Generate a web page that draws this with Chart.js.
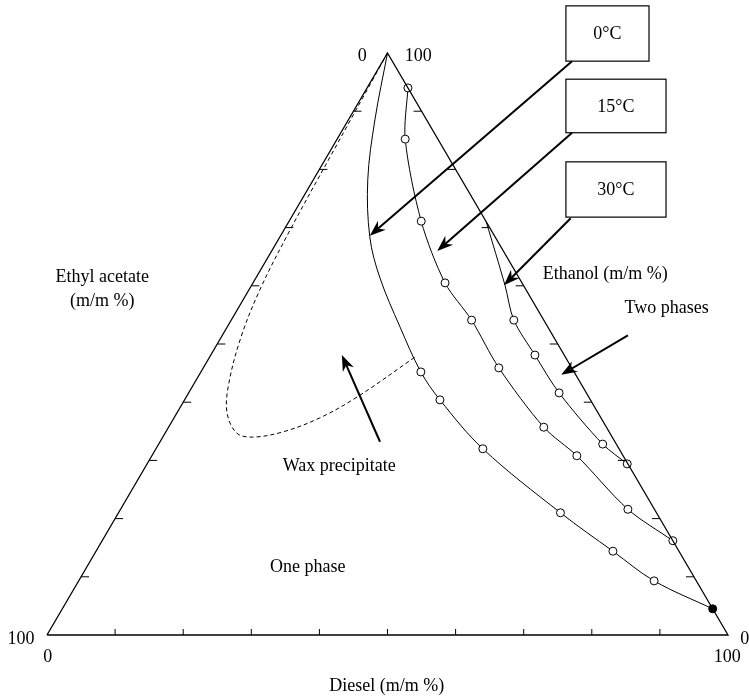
<!DOCTYPE html>
<html>
<head>
<meta charset="utf-8">
<script src="https://cdn.jsdelivr.net/npm/chart.js@4"></script>
<style>
  html, body { margin: 0; padding: 0; background: #fff; }
  #wrap { width: 749px; height: 696px; }
</style>
</head>
<body>
<div id="wrap"><canvas id="ternary" width="749" height="696"></canvas></div>
<script>
// compositions, m/m % (ethyl acetate = 100 - diesel - ethanol)
const diesel0   = [0, 3.9, 8.0, 13.2, 18.1, 25.4, 32.3, 37.5, 48.0, 64.9, 75.9, 84.5, 95.5];
const ethanol0  = [100, 88.5, 78.2, 68.4, 61.5, 52.9, 45.2, 40.4, 32.0, 21.0, 14.4, 9.3, 4.5];
const marked0   = [0, 0, 0, 0, 0, 0, 1, 1, 1, 1, 1, 1, 2];

const diesel15  = [6.0, 10.0, 19.4, 28.2, 35.3, 43.4, 55.1, 62.4, 74.5, 83.8];
const ethanol15 = [94.0, 85.2, 71.1, 60.5, 54.1, 45.9, 35.7, 30.8, 21.6, 16.2];
const marked15  = [1, 1, 1, 1, 1, 1, 1, 1, 1, 1];

const diesel30  = [29.0, 37.2, 41.5, 47.6, 54.4, 65.2, 70.5];
const ethanol30 = [71.0, 60.1, 54.1, 48.1, 41.6, 32.8, 29.4];
const marked30  = [0, 0, 1, 1, 1, 1, 1];

const dieselWax  = [0, 0.5, 0.9, 1.6, 3.0, 5.3, 7.4, 10.5, 13.2, 17.2, 21.4, 25.1, 30.2];
const ethanolWax = [100, 82.1, 69.6, 59.3, 50.7, 42.6, 38.1, 34.7, 34.0, 34.9, 37.3, 40.9, 47.8];

const tickSteps = [10, 20, 30, 40, 50, 60, 70, 80, 90];

// ternary -> plot coordinates (x along diesel axis, y = ethanol height)
function toXY(d, e) {
    return { x: d + e / 2, y: e };
}

function series(ds, es) {
    return ds.map((d, i) => toXY(d, es[i]));
}

function radii(marks) {
    return marks.map(m => m ? 4 : 0);
}

function fills(marks) {
    return marks.map(m => m === 2 ? '#000' : '#fff');
}

const FONT = '18px "Liberation Serif", "DejaVu Serif", serif';

// labels / annotations in plot units
const labels = [
    { t: '0', x: 46.3, y: 99.5, a: 'center' },
    { t: '100', x: 54.5, y: 99.5, a: 'center' },
    { t: 'Ethyl acetate', x: 8.1, y: 61.5, a: 'center' },
    { t: '(m/m %)', x: 8.1, y: 57.4, a: 'center' },
    { t: 'Ethanol (m/m %)', x: 72.8, y: 62.0, a: 'left' },
    { t: 'Two phases', x: 91.0, y: 56.2, a: 'center' },
    { t: 'Wax precipitate', x: 42.9, y: 29.0, a: 'center' },
    { t: 'One phase', x: 38.3, y: 11.7, a: 'center' },
    { t: '100', x: -3.8, y: -0.7, a: 'center' },
    { t: '0', x: 0.1, y: -3.8, a: 'center' },
    { t: '100', x: 99.9, y: -3.8, a: 'center' },
    { t: '0', x: 101.8, y: -0.7, a: 'left' },
    { t: 'Diesel (m/m %)', x: 49.9, y: -8.8, a: 'center' }
];

const boxes = [
    { t: '0°C', x0: 76.2, x1: 88.4, y0: 108.1, y1: 98.6 },
    { t: '15°C', x0: 76.2, x1: 90.9, y0: 95.5, y1: 86.3 },
    { t: '30°C', x0: 76.2, x1: 90.9, y0: 81.3, y1: 71.8 }
];

const arrows = [
    { x0: 77.1, y0: 98.6, x1: 47.4, y1: 68.6 },
    { x0: 77.1, y0: 86.3, x1: 57.3, y1: 66.0 },
    { x0: 76.9, y0: 71.6, x1: 67.1, y1: 60.1 },
    { x0: 85.3, y0: 51.5, x1: 75.5, y1: 44.7 },
    { x0: 48.9, y0: 33.2, x1: 43.3, y1: 48.1 }
];

function drawArrow(ctx, x0, y0, x1, y1) {
    const ang = Math.atan2(y1 - y0, x1 - x0);
    const len = 16, half = 6, back = 11;
    ctx.beginPath();
    ctx.moveTo(x0, y0);
    ctx.lineTo(x1 - Math.cos(ang) * back, y1 - Math.sin(ang) * back);
    ctx.lineWidth = 2;
    ctx.stroke();
    ctx.save();
    ctx.translate(x1, y1);
    ctx.rotate(ang);
    ctx.beginPath();
    ctx.moveTo(0, 0);
    ctx.lineTo(-len, -half);
    ctx.lineTo(-back, 0);
    ctx.lineTo(-len, half);
    ctx.closePath();
    ctx.fill();
    ctx.restore();
}

const decor = {
    id: 'decor',
    afterDatasetsDraw(chart) {
        const ctx = chart.ctx;
        const sx = chart.scales.x, sy = chart.scales.y;
        const X = v => sx.getPixelForValue(v);
        const Y = v => sy.getPixelForValue(v);
        ctx.save();
        ctx.strokeStyle = '#000';
        ctx.fillStyle = '#000';
        ctx.lineWidth = 1;

        // ticks on the three sides
        tickSteps.forEach(k => {
            let p = toXY(k, 0);
            ctx.beginPath();
            ctx.moveTo(X(p.x), Y(p.y));
            ctx.lineTo(X(p.x), Y(p.y) - 6);
            ctx.stroke();
            p = toXY(0, k);
            ctx.beginPath();
            ctx.moveTo(X(p.x), Y(p.y));
            ctx.lineTo(X(p.x) + 8, Y(p.y));
            ctx.stroke();
            p = toXY(100 - k, k);
            ctx.beginPath();
            ctx.moveTo(X(p.x), Y(p.y));
            ctx.lineTo(X(p.x) - 8, Y(p.y));
            ctx.stroke();
        });

        // temperature boxes
        ctx.font = FONT;
        ctx.textBaseline = 'middle';
        ctx.lineWidth = 1.2;
        boxes.forEach(b => {
            const l = X(b.x0), r = X(b.x1), t = Y(b.y0), bt = Y(b.y1);
            ctx.strokeRect(l, t, r - l, bt - t);
            ctx.textAlign = 'center';
            ctx.fillText(b.t, (l + r) / 2, (t + bt) / 2 + 1);
        });

        arrows.forEach(a => drawArrow(ctx, X(a.x0), Y(a.y0), X(a.x1), Y(a.y1)));

        labels.forEach(l => {
            ctx.textAlign = l.a;
            ctx.fillText(l.t, X(l.x), Y(l.y));
        });
        ctx.restore();
    }
};

function curve(ds, es, marks, extra) {
    return Object.assign({
        data: series(ds, es),
        showLine: true,
        borderColor: '#000',
        borderWidth: 1,
        tension: 0.3,
        pointRadius: radii(marks),
        pointHoverRadius: radii(marks),
        pointBackgroundColor: fills(marks),
        pointBorderColor: '#000',
        pointBorderWidth: 1,
        clip: false
    }, extra || {});
}

new Chart(document.getElementById('ternary').getContext('2d'), {
    type: 'scatter',
    data: {
        datasets: [
            {
                data: series([0, 100, 0, 0], [0, 0, 100, 0]),
                showLine: true,
                borderColor: '#000',
                borderWidth: 1.3,
                tension: 0,
                pointRadius: 0,
                clip: false
            },
            curve(dieselWax, ethanolWax, dieselWax.map(() => 0), { borderDash: [4, 3], tension: 0.35 }),
            curve(diesel0, ethanol0, marked0, { tension: 0.35 }),
            curve(diesel15, ethanol15, marked15),
            curve(diesel30, ethanol30, marked30)
        ]
    },
    options: {
        responsive: false,
        animation: false,
        layout: { padding: { left: 47, right: 21, top: 53, bottom: 61 } },
        scales: {
            x: { type: 'linear', min: 0, max: 100, display: false },
            y: { type: 'linear', min: 0, max: 100, display: false }
        },
        plugins: {
            legend: { display: false },
            tooltip: { enabled: false }
        }
    },
    plugins: [decor]
});
</script>
</body>
</html>
